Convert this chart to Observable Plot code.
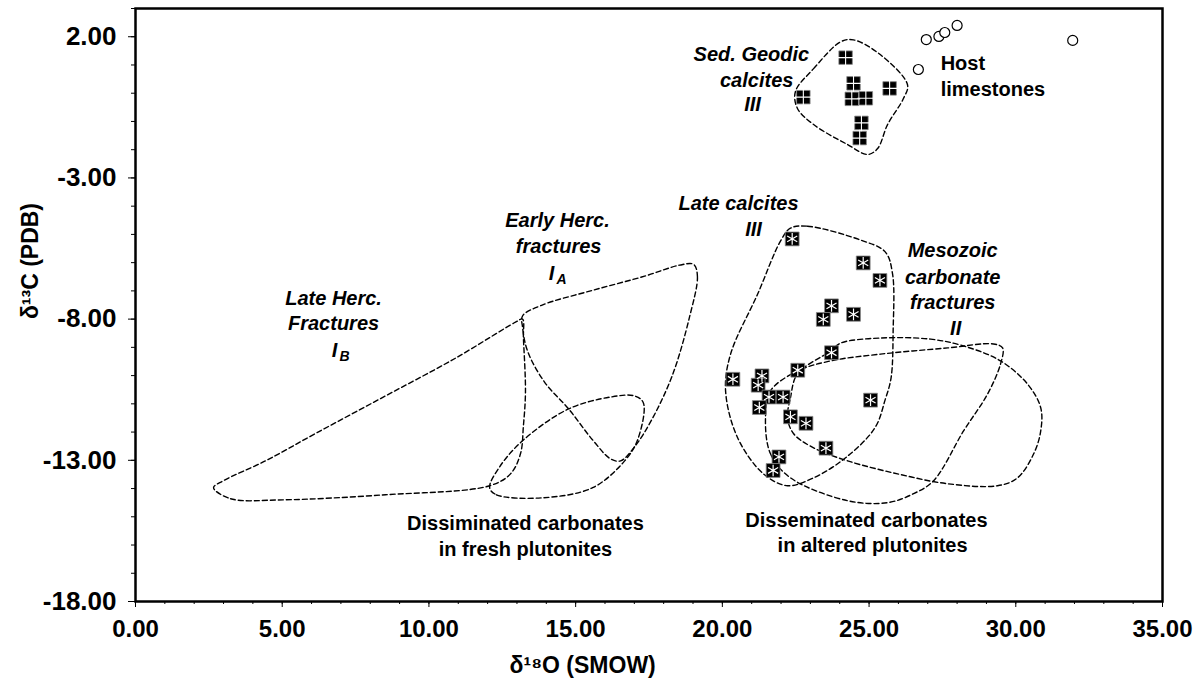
<!DOCTYPE html>
<html><head><meta charset="utf-8">
<script src="https://cdn.jsdelivr.net/npm/d3@7"></script>
<script src="https://cdn.jsdelivr.net/npm/@observablehq/plot@0.6"></script>
<style>body{margin:0;background:#fff;}</style>
</head><body><div id="chart"></div>
<script>
// Host limestones (open circles)
const hostX = [26.68, 26.95, 27.38, 27.58, 28.00, 31.94];
const hostY = [0.84, 1.90, 2.01, 2.15, 2.40, 1.87];
// Sed. geodic calcites III (squares with plus)
const geodicX = [24.20, 24.47, 25.70, 22.76, 24.41, 24.89, 24.74, 24.68];
const geodicY = [1.26, 0.35, 0.17, -0.14, -0.20, -0.18, -1.05, -1.59];
// Late calcites III (squares with asterisk)
const lateX = [22.38, 24.80, 25.37, 23.72, 23.44, 24.47, 23.72, 22.57, 20.36, 21.35, 21.22, 21.59, 22.07, 21.26, 25.05, 22.32, 22.85, 23.53, 21.93, 21.73];
const lateY = [-5.16, -6.01, -6.63, -7.53, -8.01, -7.83, -9.19, -9.81, -10.13, -10.01, -10.34, -10.76, -10.76, -11.13, -10.87, -11.46, -11.69, -12.57, -12.88, -13.36];

// Field outlines [x, y]
const fieldGeodic = [[22.49,0.06],[23.11,0.87],[24.03,1.82],[24.47,1.89],[25.39,1.36],[26.31,0.30],[26.17,-0.19],[25.63,-1.11],[25.29,-1.96],[24.95,-2.17],[24.27,-1.82],[23.11,-1.11],[22.56,-0.54]];
const fieldLate = [[22.32,-4.78],[22.90,-4.71],[24.71,-5.20],[25.55,-5.62],[25.80,-6.40],[25.82,-8.42],[25.75,-10.08],[25.55,-10.85],[25.20,-11.85],[24.20,-12.91],[23.11,-13.62],[22.22,-13.90],[21.40,-13.48],[20.52,-12.20],[20.11,-10.54],[20.28,-9.24],[21.20,-7.12],[21.98,-5.24]];
const fieldAltered = [[22.22,-11.50],[22.32,-10.79],[22.56,-9.94],[23.69,-9.13],[24.03,-8.85],[25.39,-8.67],[27.10,-8.71],[28.22,-8.95],[29.48,-9.48],[30.40,-10.30],[30.85,-11.14],[30.85,-11.96],[30.61,-12.77],[30.06,-13.62],[29.38,-13.90],[27.68,-13.83],[25.97,-13.48],[24.27,-13.02],[23.11,-12.56],[22.43,-12.06]];
const fieldMesozoic = [[21.47,-11.50],[21.64,-12.77],[22.32,-13.62],[24.27,-14.43],[25.63,-14.50],[26.52,-14.18],[27.20,-13.72],[28.22,-11.96],[29.04,-10.65],[29.48,-9.59],[29.55,-9.02],[29.24,-8.88],[27.68,-9.02],[25.39,-9.24],[23.69,-9.48],[22.56,-9.84],[21.64,-10.54]];
const fieldLateHerc = [[2.66,-13.97],[3.24,-14.36],[5.01,-14.40],[8.52,-14.22],[12.07,-13.90],[12.78,-13.48],[13.12,-12.77],[13.22,-11.78],[13.29,-10.58],[13.22,-8.67],[13.19,-8.00],[12.95,-8.11],[10.91,-9.38],[8.52,-10.72],[6.17,-12.03],[4.43,-13.02],[3.00,-13.72]];
const fieldEarlyHerc = [[19.02,-6.06],[19.15,-6.48],[18.88,-7.93],[18.30,-9.98],[17.59,-11.57],[17.01,-12.52],[16.53,-13.02],[16.19,-12.95],[15.58,-12.28],[14.76,-11.18],[13.94,-10.23],[13.36,-9.13],[13.19,-8.28],[13.19,-7.89],[13.84,-7.51],[15.58,-6.98],[17.35,-6.48],[18.54,-6.09]];
const fieldFresh = [[12.07,-13.97],[12.30,-14.22],[13.84,-14.33],[15.58,-13.97],[16.67,-13.02],[17.11,-12.28],[17.31,-10.97],[17.01,-10.72],[16.19,-10.76],[14.76,-11.18],[13.22,-12.28],[12.41,-13.23]];

// Labels
const italicText = ["Sed. Geodic","calcites","III","Late calcites","III","Early Herc.","fractures","Late Herc.","Fractures","Mesozoic","carbonate","fractures","II"];
const italicX = [20.99, 21.17, 21.03, 20.55, 21.06, 14.38, 14.42, 6.75, 6.75, 27.85, 27.85, 27.85, 27.95];
const italicY = [1.37, 0.45, -0.40, -3.91, -4.83, -4.51, -5.43, -7.27, -8.15, -5.57, -6.53, -7.41, -8.33];
const subMain = ["I", "I"];
const subLetter = ["A", "B"];
const subX = [14.18, 6.78];
const subY = [-6.38, -9.11];
const hostText = ["Host", "limestones"];
const hostTextX = [27.44, 27.44];
const hostTextY = [1.05, 0.13];
const dissText = ["Dissiminated carbonates", "in fresh plutonites", "Disseminated carbonates", "in altered plutonites"];
const dissX = [13.29, 13.29, 24.91, 25.12];
const dissY = [-15.24, -16.16, -15.13, -16.02];

const xMajor = d3.range(0, 36, 5);
const xMinor = d3.range(0, 36, 1);
const yMajor = [2, -3, -8, -13, -18];
const yMinor = d3.range(-18, 4, 1);
const xTitle = "δ¹⁸O (SMOW)";
const yTitle = "δ¹³C (PDB)";

const pts = (xs, ys) => xs.map((x, i) => ({x, y: ys[i]}));
const fields = [
  ["geodic", fieldGeodic], ["late", fieldLate], ["altered", fieldAltered], ["mesozoic", fieldMesozoic],
  ["lateHerc", fieldLateHerc], ["earlyHerc", fieldEarlyHerc], ["fresh", fieldFresh]
].flatMap(([name, arr]) => arr.map(([x, y]) => ({name, x, y})));
const lbl = (t, xs, ys) => t.map((s, i) => ({s, x: xs[i], y: ys[i]}));
const fmt = d => d.toFixed(2);

const SANS = "'Liberation Sans', Arial, Helvetica, sans-serif";

const chart = Plot.plot({
  width: 1197, height: 687,
  marginLeft: 135, marginRight: 35, marginTop: 8, marginBottom: 86,
  x: {domain: [0, 35]},
  y: {domain: [-18, 3]},
  style: {fontFamily: SANS, fontWeight: "bold", background: "#fff", color: "#000", overflow: "visible"},
  marks: [
    Plot.axisX({ticks: xMinor, tickSize: 3, fill: "none", label: null, strokeWidth: 1}),
    Plot.axisX({ticks: xMajor, tickSize: 6, tickPadding: 12, tickFormat: fmt, label: null, fontSize: 24, fontFamily: SANS, fontWeight: "bold"}),
    Plot.axisY({ticks: yMinor, tickSize: 4, fill: "none", label: null}),
    Plot.axisY({ticks: yMajor, tickSize: 7, tickPadding: 12, tickFormat: fmt, label: null, fontSize: 26, fontFamily: SANS, fontWeight: "bold"}),
    Plot.text([xTitle], {text: d => d, x: [15.24], frameAnchor: "bottom", dy: 71, fontSize: 23, fontFamily: SANS, fontWeight: "bold"}),
    Plot.text([yTitle], {text: d => d, y: [-8.0], frameAnchor: "left", dx: -105, rotate: -90, fontSize: 23, fontFamily: SANS, fontWeight: "bold"}),
    Plot.line(fields, {x: "x", y: "y", z: "name", curve: "catmull-rom-closed", stroke: "#000", strokeWidth: 1.4, strokeDasharray: "5,3"}),
    Plot.dot(pts(hostX, hostY), {x: "x", y: "y", r: 5, stroke: "#000", strokeWidth: 1.2, fill: "#fff"}),
    Plot.dot(pts(geodicX, geodicY), {x: "x", y: "y", symbol: "square", r: 7.6, fill: "#000", stroke: "#888", strokeWidth: 0.8}),
    Plot.dot(pts(geodicX, geodicY), {x: "x", y: "y", symbol: "plus", r: 5.5, stroke: "#fff", strokeWidth: 1.1}),
    Plot.dot(pts(lateX, lateY), {x: "x", y: "y", symbol: "square", r: 7.8, fill: "#000", stroke: "#888", strokeWidth: 0.8}),
    Plot.dot(pts(lateX, lateY), {x: "x", y: "y", symbol: "asterisk", r: 5.5, stroke: "#fff", strokeWidth: 1.2}),
    Plot.text(lbl(italicText, italicX, italicY), {x: "x", y: "y", text: "s", fontSize: 20, fontStyle: "italic", fontWeight: "bold", fontFamily: SANS}),
    Plot.text(lbl(subMain, subX, subY), {x: "x", y: "y", text: "s", fontSize: 20, fontStyle: "italic", fontWeight: "bold", fontFamily: SANS}),
    Plot.text(lbl(subLetter, subX, subY), {x: "x", y: "y", text: "s", dx: 10, dy: 6, fontSize: 14, fontStyle: "italic", fontWeight: "bold", fontFamily: SANS}),
    Plot.text(lbl(hostText, hostTextX, hostTextY), {x: "x", y: "y", text: "s", textAnchor: "start", fontSize: 20, fontWeight: "bold", fontFamily: SANS}),
    Plot.text(lbl(dissText, dissX, dissY), {x: "x", y: "y", text: "s", fontSize: 20, fontWeight: "bold", fontFamily: SANS}),
    Plot.frame({stroke: "#000", strokeWidth: 2.5})
  ]
});
document.getElementById("chart").appendChild(chart);
</script>
</body></html>
